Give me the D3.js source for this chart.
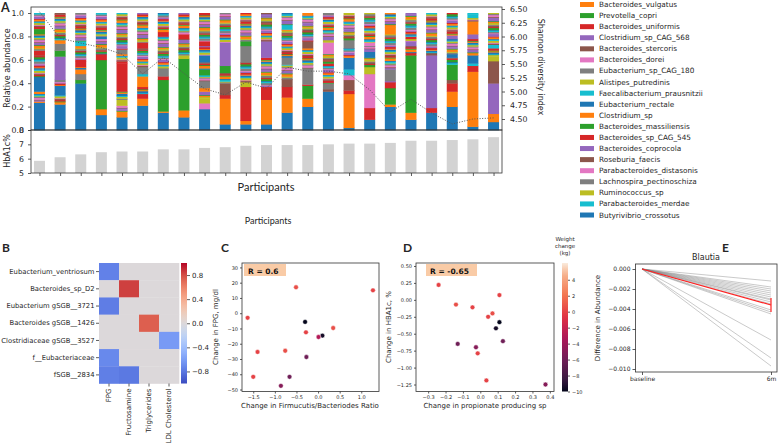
<!DOCTYPE html>
<html><head><meta charset="utf-8">
<script src="https://cdn.jsdelivr.net/npm/d3@7"></script>
<style>
body{margin:0;background:#fff}
svg{display:block;background:#fff}
text{font-family:'DejaVu Sans',sans-serif;fill:#262626}
</style></head>
<body><svg id="c" width="778" height="443"></svg>
<script>
// ---------------- DATA ----------------
const participants = ["P01","P02","P03","P04","P05","P06","P07","P08","P09","P10","P11","P12","P13","P14","P15","P16","P17","P18","P19","P20","P21","P22","P23"];
const hba1c = [5.85,6.1,6.3,6.45,6.5,6.5,6.65,6.65,6.75,6.8,6.9,6.95,6.95,6.95,7.0,7.05,7.05,7.1,7.25,7.25,7.3,7.35,7.5];
const shannon = [6.45,5.97,5.88,5.80,5.68,5.32,5.62,5.33,5.05,4.94,5.17,5.06,5.44,5.37,5.37,5.32,5.03,4.63,4.86,4.61,4.41,4.50,4.52];
const legendSpecies = ["Bacteroides_vulgatus","Prevotella_copri","Bacteroides_uniformis","Clostridium_sp_CAG_568","Bacteroides_stercoris","Bacteroides_dorei","Eubacterium_sp_CAG_180","Alistipes_putredinis","Faecalibacterium_prausnitzii","Eubacterium_rectale","Clostridium_sp","Bacteroides_massiliensis","Bacteroides_sp_CAG_545","Bacteroides_coprocola","Roseburia_faecis","Parabacteroides_distasonis","Lachnospira_pectinoschiza","Ruminococcus_sp","Parabacteroides_merdae","Butyrivibrio_crossotus"];
const legendColorIdx = [1,2,3,4,5,6,7,8,9,0,1,2,3,4,5,6,7,8,9,0];
// stacked composition per participant, bottom -> top: [tab10 colour index, share]; 'm' = many minor species
const composition = [
 [[0,.235],[1,.01],['m',.085],[0,.125],['m',.185],[3,.04],['m',.14],[2,.04],['m',.14]],
 [[0,.22],['m',.09],[0,.07],['m',.05],[4,.20],[2,.05],[7,.06],[1,.03],['m',.23]],
 [[0,.40],[2,.03],[7,.05],[1,.04],['m',.02],[3,.05],['m',.13],[9,.04],['m',.24]],
 [[0,.13],[1,.05],[2,.42],[3,.05],['m',.13],[0,.02],['m',.20]],
 [[0,.11],[1,.05],['m',.05],[8,.05],['m',.07],[3,.24],['m',.08],[7,.04],['m',.31]],
 [[0,.21],[1,.06],[3,.04],['m',.06],[1,.09],[9,.02],[7,.06],['m',.16],[3,.05],['m',.25]],
 [[0,.15],[1,.01],[2,.27],[3,.03],[7,.07],['m',.27],[3,.04],['m',.16]],
 [[0,.11],[1,.06],[2,.44],[8,.03],['m',.14],[3,.04],['m',.18]],
 [[0,.18],[6,.05],[8,.04],['m',.06],[1,.03],[7,.06],['m',.05],[2,.05],['m',.06],[0,.06],['m',.08],[3,.04],['m',.24]],
 [[0,.05],[1,.22],[3,.03],[5,.10],['m',.09],[2,.06],[4,.20],['m',.25]],
 [[0,.05],[1,.03],[3,.29],[8,.04],['m',.17],[7,.14],[2,.04],['m',.24]],
 [[0,.05],[1,.21],[3,.11],['m',.25],[4,.14],['m',.24]],
 [[0,.15],[1,.13],[3,.09],[5,.06],['m',.13],[7,.06],['m',.24],[9,.04],['m',.10]],
 [[0,.20],[1,.07],[2,.11],[3,.01],[7,.14],['m',.17],[5,.06],['m',.24]],
 [[0,.33],[5,.02],[7,.05],['m',.15],[3,.02],['m',.08],[6,.10],[8,.02],['m',.23]],
 [[0,.02],[1,.29],[3,.03],[5,.09],[6,.04],[9,.05],[0,.10],['m',.08],[7,.07],['m',.23]],
 [[0,.09],[3,.10],[6,.29],[8,.06],['m',.08],[0,.05],['m',.05],[6,.03],['m',.25]],
 [[0,.20],[1,.02],[2,.14],[3,.05],['m',.01],[7,.10],['m',.30],[1,.06],['m',.12]],
 [[0,.09],[1,.06],[2,.49],[3,.02],['m',.06],[4,.04],['m',.02],[3,.02],['m',.20]],
 [[0,.15],[3,.04],[4,.45],[5,.02],['m',.34]],
 [[0,.20],[1,.13],[3,.07],[5,.03],[2,.13],['m',.06],[0,.03],['m',.13],[4,.03],['m',.19]],
 [[0,.03],[1,.47],[3,.05],[9,.02],[0,.07],['m',.14],[4,.04],[1,.11],['m',.03],[9,.03],['m',.01]],
 [[0,.07],[1,.07],[4,.26],[5,.19],[8,.04],['m',.07],[9,.03],['m',.27]]
];
// minor-species stripe look (colour order / relative thickness)
const stripeColors = [4,5,6,7,8,9,0,1,2,3,5,6,8,9,0,1,3,4,6,7,9,0,2,3,5,7,8,1,2,4];
const stripeWeights = [1.0,0.6,1.4,0.8,0.5,1.2,0.7,1.8,0.6,1.0,0.9,0.5,1.5,0.7,1.1,0.6,1.3,0.8,0.5,1.6];

const heatRows = ["Eubacterium_ventriosum","Bacteroides_sp_D2","Eubacterium gSGB__3721","Bacteroides gSGB__1426","Clostridiaceae gSGB__3527","f__Eubacteriaceae","fSGB__2834"];
const heatCols = ["FPG","Fructosamine","Triglycerides","LDL Cholesterol"];
const heatValues = [
 [-0.75,0,0,0],
 [0,0.84,0,0],
 [-0.77,0,0,0],
 [0,0,0.74,0],
 [0,0,0,-0.62],
 [-0.71,0,0,0],
 [-0.76,-0.79,0,0]
];

const fbRatio   = [-1.63,-0.51,1.27,-0.30,-0.28,0.35,0.10,0.01,-1.40,-0.76,-0.27,-1.50,-0.66,-0.86];
const fpgChange = [-3,17,15,-5.7,-12.5,-9.7,-14.7,-15.6,-25.4,-24.6,-28.7,-41.7,-41.7,-47.6];
const weightC   = [0,0.5,0,-10,0,0.5,-9.5,-3,0,0.5,-6,0,-6,-5];
const propChange = [-0.24,0.11,-0.14,-0.045,0.07,0.045,0.11,0.09,0.13,-0.13,-0.025,-0.015,0.035,0.375];
const hbaChange  = [0.22,0.07,-0.07,-0.11,-0.20,-0.25,-0.33,-0.42,-0.61,-0.65,-0.70,-0.79,-1.19,-1.25];
const weightD    = [0,0,0.5,0,0.5,0,-10,-9.5,-6,-6,-5,0,0,-5];

const blautiaGroups = ["baseline","6m"];
const blautia6m = [-0.0012,-0.0018,-0.0020,-0.0022,-0.0024,-0.0026,-0.0028,-0.0030,-0.0031,-0.0033,-0.0035,-0.0041,-0.0043,-0.0045,-0.0071,-0.0089,-0.0097];
const blautiaMean = -0.0036;
const blautiaCI = [-0.0043,-0.0029];

// ---------------- DRAW ----------------
const svg = d3.select('#c');
const tab10 = d3.schemeCategory10;
const INK = '#333';
function frame(x0,y0,x1,y1){svg.append('rect').attr('x',x0).attr('y',y0).attr('width',x1-x0).attr('height',y1-y0).attr('fill','none').attr('stroke',INK).attr('stroke-width',0.8);}
function styleAxis(g,fs){g.select('.domain').remove();g.selectAll('line').attr('stroke',INK).attr('stroke-width',0.8);g.selectAll('text').style('font-size',fs+'px').attr('fill','#262626');return g;}
function txt(x,y,s,fs,opt={}){const t=svg.append('text').attr('x',x).attr('y',y).text(s).style('font-size',fs+'px');if(opt.anchor)t.attr('text-anchor',opt.anchor);if(opt.family)t.style('font-family',opt.family);if(opt.weight)t.style('font-weight',opt.weight);if(opt.rot!==undefined)t.attr('transform',`rotate(${opt.rot},${x},${y})`);if(opt.base)t.attr('dominant-baseline',opt.base);return t;}

// ---- Panel A ----
const xA = d3.scaleLinear().domain([-0.41,22.41]).range([31,502]);
const yRel = d3.scaleLinear().domain([0,1]).range([130,13]);
const yShan = d3.scaleLinear().domain([4.5,6.5]).range([119,9]);
const yHb = d3.scaleLinear().domain([5,8]).range([173,130]);
const bw = 11;
const gBars = svg.append('g');
composition.forEach((segs,i)=>{
  let acc=0, si=i*7;
  const put=(v,col)=>{gBars.append('rect').attr('x',xA(i)-bw/2).attr('width',bw).attr('y',yRel(acc+v)).attr('height',yRel(acc)-yRel(acc+v)+0.4).attr('fill',col);acc+=v;};
  segs.forEach(([c,v])=>{
    if(c==='m'){
      const n=Math.max(1,Math.round(v/0.011));
      const ws=d3.range(n).map(k=>stripeWeights[(si+k)%stripeWeights.length]);
      const tot=d3.sum(ws);
      ws.forEach((w,k)=>put(v*w/tot,tab10[stripeColors[(si+k)%stripeColors.length]]));
      si+=n;
    } else put(v,tab10[c]);
  });
});
svg.append('path').datum(shannon).attr('d',d3.line().x((d,i)=>xA(i)).y(d=>yShan(d)))
  .attr('fill','none').attr('stroke','#555').attr('stroke-width',1).attr('stroke-dasharray','1,1.6');
frame(31,7,502,130);
styleAxis(svg.append('g').attr('transform','translate(31,0)').call(d3.axisLeft(yRel).tickValues([0,.2,.4,.6,.8,1]).tickFormat(d3.format('.1f')).tickSize(3).tickPadding(4)),7.8);
styleAxis(svg.append('g').attr('transform','translate(502,0)').call(d3.axisRight(yShan).tickValues([4.5,4.75,5,5.25,5.5,5.75,6,6.25,6.5]).tickFormat(d3.format('.2f')).tickSize(3).tickPadding(5)),7.8);
txt(10,68,'Relative abundance',8,{anchor:'middle',rot:-90});
txt(538,67,'Shannon diversity index',8,{anchor:'middle',rot:90});
svg.append('g').selectAll('rect').data(hba1c).join('rect')
  .attr('x',(d,i)=>xA(i)-bw/2).attr('width',bw).attr('y',d=>yHb(d)).attr('height',d=>yHb(5)-yHb(d)).attr('fill','#d3d3d3');
frame(31,130,502,173);
styleAxis(svg.append('g').attr('transform','translate(31,0)').call(d3.axisLeft(yHb).tickValues([5,6,7,8]).tickFormat(d3.format('d')).tickSize(3).tickPadding(4)),7.8);
styleAxis(svg.append('g').attr('transform','translate(0,173)').call(d3.axisBottom(xA).tickValues(d3.range(participants.length)).tickFormat('').tickSize(3)),8);
txt(10,151,'HbA1c%',8,{anchor:'middle',rot:-90});
txt(266,191,'Participants',11,{anchor:'middle',family:'Lato'});
txt(1,12,'A',12.5,{family:'Lato',weight:'bold'});
legendSpecies.forEach((s,i)=>{
  const y=4.5+i*11.08;
  svg.append('rect').attr('x',580).attr('y',y-2.5).attr('width',14).attr('height',5).attr('fill',tab10[legendColorIdx[i]]);
  txt(599,y,s,7.3,{base:'central'});
});

// ---- middle labels ----
txt(268,224,'Participants',9,{anchor:'middle',family:'Lato'});
txt(2,252,'B',12,{family:'Lato',weight:'bold'});
txt(221,252,'C',12,{family:'Lato',weight:'bold'});
txt(403,252,'D',12,{family:'Lato',weight:'bold'});
txt(722,252,'E',12,{family:'Lato',weight:'bold'});

// ---- Panel B heatmap ----
const cool = d3.interpolateRgbBasis(['#3b4cc0','#5977e3','#7b9ff9','#9ebeff','#c0d4f5','#dddcdc','#f2cbb7','#f7ac8e','#ee8468','#d65244','#b40426']);
const cval = d3.scaleLinear().domain([-1,1]).range([0,1]);
const xB = d3.scaleBand().domain(heatCols).range([99,179]);
const yB = d3.scaleBand().domain(heatRows).range([263,383.5]);
heatValues.forEach((row,r)=>row.forEach((v,c)=>{
  svg.append('rect').attr('x',xB(heatCols[c])).attr('y',yB(heatRows[r])).attr('width',xB.bandwidth()+0.3).attr('height',yB.bandwidth()+0.3).attr('fill',cool(cval(v)));
}));
styleAxis(svg.append('g').attr('transform','translate(99,0)').call(d3.axisLeft(yB).tickSize(3).tickPadding(1.5)),6.8);
const gxb=styleAxis(svg.append('g').attr('transform','translate(0,383.5)').call(d3.axisBottom(xB).tickSize(3).tickPadding(2)),7);
gxb.selectAll('text').attr('transform','rotate(-90)').attr('text-anchor','end').attr('dy','0.32em').attr('x',-5).attr('y',0);
const defs=svg.append('defs');
const lgB=defs.append('linearGradient').attr('id','gB').attr('x1',0).attr('y1',1).attr('x2',0).attr('y2',0);
d3.range(0,1.001,0.05).forEach(t=>lgB.append('stop').attr('offset',t).attr('stop-color',cool(t)));
svg.append('rect').attr('x',181).attr('y',263).attr('width',6).attr('height',120.5).attr('fill','url(#gB)');
const yCB=d3.scaleLinear().domain([-1,1]).range([383.5,263]);
styleAxis(svg.append('g').attr('transform','translate(187,0)').call(d3.axisRight(yCB).tickValues([-0.8,-0.4,0,0.4,0.8]).tickFormat(d3.format('.1f')).tickSize(3).tickPadding(2)),7);

// ---- rocket colormap for weight ----
const rocket = d3.scaleLinear().domain([0,0.083,0.25,0.417,0.583,0.75,0.917,1]).range(['#03051a','#35193e','#701f57','#ad1759','#e13342','#f37651','#f6b48f','#faebdd']).interpolate(d3.interpolateRgb);
const wNorm = d3.scaleLinear().domain([-10,6.1]).range([0,1]);
function scatter(x,y,xs,ys,ws){
  svg.append('g').selectAll('circle').data(xs).join('circle')
   .attr('cx',d=>x(d)).attr('cy',(d,i)=>y(ys[i])).attr('r',2.4)
   .attr('fill',(d,i)=>rocket(wNorm(ws[i]))).attr('stroke','#fff').attr('stroke-width',0.5);
}
// ---- Panel C ----
const xC=d3.scaleLinear().domain([-1.76,1.41]).range([242,379]);
const yC=d3.scaleLinear().domain([-51.3,32.9]).range([391.5,263]);
svg.append('rect').attr('x',244).attr('y',264).attr('width',42).attr('height',12).attr('fill','#f9cba6');
txt(248,273.5,'R = 0.6',7.5,{weight:'bold'}).style('fill','#111');
scatter(xC,yC,fbRatio,fpgChange,weightC);
frame(242,263,379,391.5);
styleAxis(svg.append('g').attr('transform','translate(242,0)').call(d3.axisLeft(yC).tickValues([-50,-40,-30,-20,-10,0,10,20,30]).tickSize(2).tickPadding(2)),5);
styleAxis(svg.append('g').attr('transform','translate(0,391.5)').call(d3.axisBottom(xC).tickValues([-1.5,-1,-0.5,0,0.5,1]).tickFormat(d3.format('.1f')).tickSize(2).tickPadding(2)),5);
txt(218,327,'Change in FPG, mg/dl',7,{anchor:'middle',rot:-90});
txt(310,408,'Change in Firmucutis/Bacteriodes Ratio',7,{anchor:'middle'});

// ---- Panel D ----
const xD=d3.scaleLinear().domain([-0.37,0.424]).range([416,554]);
const yD=d3.scaleLinear().domain([-1.353,0.544]).range([391.5,263]);
svg.append('rect').attr('x',426).attr('y',264).attr('width',51).attr('height',12).attr('fill','#f9cba6');
txt(430,273.5,'R = -0.65',7.5,{weight:'bold'}).style('fill','#111');
scatter(xD,yD,propChange,hbaChange,weightD);
frame(416,263,554,391.5);
styleAxis(svg.append('g').attr('transform','translate(416,0)').call(d3.axisLeft(yD).tickValues([-1.25,-1,-0.75,-0.5,-0.25,0,0.25,0.5]).tickFormat(d3.format('.2f')).tickSize(2).tickPadding(2)),5);
styleAxis(svg.append('g').attr('transform','translate(0,391.5)').call(d3.axisBottom(xD).tickValues([-0.3,-0.2,-0.1,0,0.1,0.2,0.3,0.4]).tickFormat(d3.format('.1f')).tickSize(2).tickPadding(2)),5);
txt(391,327,'Change in HBA1c, %',7,{anchor:'middle',rot:-90});
txt(485,408,'Change in propionate producing sp',7,{anchor:'middle'});
const lgW=defs.append('linearGradient').attr('id','gW').attr('x1',0).attr('y1',1).attr('x2',0).attr('y2',0);
d3.range(0,1.001,0.05).forEach(t=>lgW.append('stop').attr('offset',t).attr('stop-color',rocket(t)));
svg.append('rect').attr('x',562).attr('y',263).attr('width',6).attr('height',128.5).attr('fill','url(#gW)');
const yW=d3.scaleLinear().domain([-10,6.1]).range([391.5,263]);
styleAxis(svg.append('g').attr('transform','translate(568,0)').call(d3.axisRight(yW).tickValues([-10,-8,-6,-4,-2,0,2,4]).tickSize(2).tickPadding(2)),5);
['Weight','change','(kg)'].forEach((s,i)=>txt(565,241+i*7,s,5.5,{anchor:'middle'}));

// ---- Panel E ----
const xE=d3.scalePoint().domain(blautiaGroups).range([642,771]);
const yE=d3.scaleLinear().domain([-0.0103,0.0005]).range([372,264]);
const gE=svg.append('g');
blautia6m.forEach(v=>gE.append('path').attr('d',d3.line()([[xE('baseline'),yE(0)],[xE('6m'),yE(v)]])).attr('stroke','#8a8a8a').attr('stroke-opacity',0.45).attr('stroke-width',1).attr('fill','none'));
gE.append('path').attr('d',d3.line()([[xE('baseline'),yE(0)],[xE('6m'),yE(blautiaMean)]])).attr('stroke','#ff2020').attr('stroke-width',1.2).attr('fill','none');
gE.append('line').attr('x1',xE('6m')).attr('x2',xE('6m')).attr('y1',yE(blautiaCI[0])).attr('y2',yE(blautiaCI[1])).attr('stroke','#ff2020').attr('stroke-width',1.2);
frame(635.5,264,777,372);
styleAxis(svg.append('g').attr('transform','translate(635.5,0)').call(d3.axisLeft(yE).tickValues([-0.01,-0.008,-0.006,-0.004,-0.002,0]).tickFormat(d3.format('.3f')).tickSize(3).tickPadding(2)),6);
styleAxis(svg.append('g').attr('transform','translate(0,372)').call(d3.axisBottom(xE).tickSize(3).tickPadding(2)),6);
txt(706,260,'Blautia',8,{anchor:'middle'});
txt(600,318,'Difference in  Abundance',7,{anchor:'middle',rot:-90});
</script></body></html>
